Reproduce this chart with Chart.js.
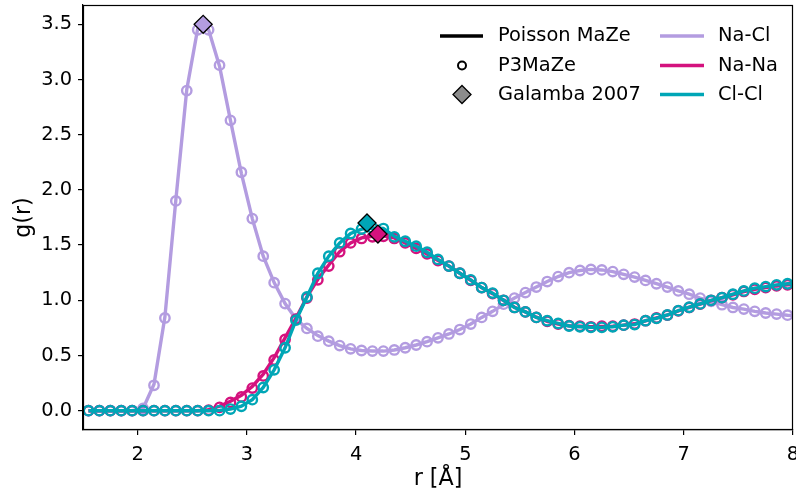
<!DOCTYPE html>
<html>
<head>
<meta charset="utf-8">
<script src="https://cdn.jsdelivr.net/npm/chart.js@4.4.1/dist/chart.umd.min.js"></script>
<style>
  html, body { margin: 0; padding: 0; background: #fff; }
</style>
</head>
<body>
<canvas id="chart" width="796" height="490"></canvas>
<script>
// r grid (Å), circles use the first 65 points, lines run one step past the axis
const rGrid = [1.55, 1.65, 1.75, 1.85, 1.95, 2.05, 2.15, 2.25, 2.35, 2.45,
  2.55, 2.65, 2.75, 2.85, 2.95, 3.05, 3.15, 3.25, 3.35, 3.45,
  3.55, 3.65, 3.75, 3.85, 3.95, 4.05, 4.15, 4.25, 4.35, 4.45,
  4.55, 4.65, 4.75, 4.85, 4.95, 5.05, 5.15, 5.25, 5.35, 5.45,
  5.55, 5.65, 5.75, 5.85, 5.95, 6.05, 6.15, 6.25, 6.35, 6.45,
  6.55, 6.65, 6.75, 6.85, 6.95, 7.05, 7.15, 7.25, 7.35, 7.45,
  7.55, 7.65, 7.75, 7.85, 7.95, 8.05];

// Poisson MaZe (lines)
const naclLine = [0, 0, 0, 0, 0, 0.02, 0.24, 0.85, 1.91, 2.91,
  3.46, 3.45, 3.12, 2.63, 2.15, 1.74, 1.40, 1.16, 0.97, 0.83,
  0.745, 0.68, 0.63, 0.59, 0.56, 0.545, 0.54, 0.54, 0.55, 0.57,
  0.595, 0.625, 0.66, 0.695, 0.735, 0.785, 0.845, 0.90, 0.962, 1.02,
  1.07, 1.12, 1.17, 1.215, 1.25, 1.27, 1.28, 1.275, 1.26, 1.235,
  1.21, 1.18, 1.15, 1.12, 1.085, 1.055, 1.02, 0.99, 0.96, 0.935,
  0.92, 0.90, 0.885, 0.875, 0.865, 0.86];
const nanaLine = [0, 0, 0, 0, 0, 0, 0, 0, 0, 0,
  0, 0.01, 0.04, 0.085, 0.14, 0.22, 0.33, 0.48, 0.66, 0.84,
  1.03, 1.19, 1.32, 1.44, 1.52, 1.565, 1.58, 1.585, 1.565, 1.52,
  1.47, 1.42, 1.36, 1.31, 1.245, 1.18, 1.115, 1.06, 1.0, 0.937,
  0.895, 0.847, 0.81, 0.785, 0.77, 0.765, 0.76, 0.763, 0.766, 0.775,
  0.787, 0.813, 0.84, 0.866, 0.903, 0.935, 0.965, 0.998, 1.025, 1.05,
  1.078, 1.10, 1.115, 1.13, 1.14, 1.145];
const clclLine = [0, 0, 0, 0, 0, 0, 0, 0, 0, 0,
  0, 0, 0.003, 0.015, 0.04, 0.10, 0.21, 0.37, 0.57, 0.82,
  1.03, 1.245, 1.40, 1.52, 1.605, 1.645, 1.655, 1.65, 1.58, 1.535,
  1.49, 1.435, 1.37, 1.31, 1.245, 1.185, 1.115, 1.065, 1.0, 0.935,
  0.895, 0.845, 0.815, 0.79, 0.767, 0.76, 0.755, 0.755, 0.76, 0.775,
  0.78, 0.815, 0.837, 0.867, 0.906, 0.937, 0.967, 1.0, 1.024, 1.055,
  1.085, 1.11, 1.124, 1.14, 1.15, 1.155];

// P3MaZe (circles)
const naclDots = [0, 0, 0, 0, 0, 0.02, 0.23, 0.84, 1.90, 2.90,
  3.45, 3.45, 3.13, 2.63, 2.16, 1.74, 1.40, 1.16, 0.97, 0.83,
  0.745, 0.675, 0.63, 0.59, 0.56, 0.545, 0.54, 0.54, 0.55, 0.57,
  0.595, 0.625, 0.66, 0.695, 0.735, 0.785, 0.845, 0.90, 0.965, 1.02,
  1.07, 1.12, 1.17, 1.215, 1.25, 1.27, 1.28, 1.275, 1.26, 1.235,
  1.21, 1.18, 1.15, 1.12, 1.085, 1.055, 1.02, 0.99, 0.96, 0.935,
  0.92, 0.90, 0.885, 0.875, 0.865];
const nanaDots = [0, 0, 0, 0, 0, 0, 0, 0, 0, 0,
  0, 0.005, 0.03, 0.075, 0.125, 0.205, 0.315, 0.46, 0.645, 0.83,
  1.02, 1.185, 1.31, 1.44, 1.52, 1.56, 1.575, 1.58, 1.56, 1.52,
  1.47, 1.42, 1.36, 1.31, 1.245, 1.18, 1.115, 1.06, 1.0, 0.935,
  0.895, 0.845, 0.81, 0.785, 0.77, 0.765, 0.76, 0.765, 0.765, 0.775,
  0.785, 0.815, 0.84, 0.865, 0.905, 0.935, 0.965, 1.0, 1.025, 1.05,
  1.08, 1.10, 1.115, 1.13, 1.14];
const clclDots = [0, 0, 0, 0, 0, 0, 0, 0, 0, 0,
  0, 0, 0, 0.015, 0.04, 0.10, 0.21, 0.37, 0.57, 0.82,
  1.03, 1.245, 1.40, 1.52, 1.605, 1.645, 1.655, 1.65, 1.575, 1.535,
  1.49, 1.435, 1.37, 1.31, 1.245, 1.185, 1.115, 1.065, 1.0, 0.935,
  0.895, 0.845, 0.815, 0.79, 0.767, 0.76, 0.755, 0.755, 0.76, 0.775,
  0.78, 0.815, 0.837, 0.867, 0.906, 0.937, 0.967, 1.0, 1.024, 1.055,
  1.085, 1.11, 1.124, 1.14, 1.15];

// Galamba 2007 first peaks: Na-Cl, Na-Na, Cl-Cl
const galambaR = [2.6, 4.2, 4.1];
const galambaG = [3.5, 1.6, 1.7];

const xTicks = [2, 3, 4, 5, 6, 7, 8];
const yTicks = [0, 0.5, 1, 1.5, 2, 2.5, 3, 3.5];

const colNaCl = '#b39ce0';
const colNaNa = '#d4127e';
const colClCl = '#00a6b6';
const FONT = "'DejaVu Sans', 'Liberation Sans', sans-serif";

function pts(xs, ys) {
  return ys.map((y, i) => ({ x: xs[i], y: y }));
}

function lineSet(ys, col, order) {
  return { data: pts(rGrid, ys), showLine: true, borderColor: col, borderWidth: 3.4,
    pointRadius: 0, pointHoverRadius: 0, tension: 0, order: order };
}
function dotSet(ys, col, order) {
  return { data: pts(rGrid, ys), showLine: false, borderColor: col,
    backgroundColor: 'rgba(0,0,0,0)', pointRadius: 4.7, pointBorderWidth: 2.4,
    pointStyle: 'circle', order: order };
}
function diamondSet(i, col, order) {
  return { data: [{ x: galambaR[i], y: galambaG[i] }], showLine: false,
    pointStyle: 'rectRot', pointRadius: 9, pointBorderWidth: 1.3,
    borderColor: '#000', backgroundColor: col, order: order, clip: false };
}

// box around the axes + the two-column legend
const extras = {
  id: 'extras',
  afterDraw(chart) {
    const ctx = chart.ctx, a = chart.chartArea;
    ctx.save();
    ctx.strokeStyle = '#000';
    ctx.lineWidth = 1.2;
    ctx.strokeRect(a.left + 0.5, a.top + 0.5, a.right - a.left - 1, a.bottom - a.top - 1);

    ctx.font = '19.4px ' + FONT;
    ctx.textBaseline = 'middle';
    ctx.fillStyle = '#000';
    const rows = [36, 65.5, 94.5];
    // left column: methods
    ctx.lineWidth = 3.5;
    ctx.beginPath(); ctx.moveTo(440, rows[0]); ctx.lineTo(483, rows[0]); ctx.stroke();
    ctx.lineWidth = 2;
    ctx.beginPath(); ctx.arc(462, rows[1], 4, 0, Math.PI * 2); ctx.stroke();
    ctx.beginPath();
    ctx.moveTo(462, rows[2] - 9); ctx.lineTo(471, rows[2]);
    ctx.lineTo(462, rows[2] + 9); ctx.lineTo(453, rows[2]); ctx.closePath();
    ctx.fillStyle = '#8c8c8c'; ctx.fill();
    ctx.lineWidth = 1.3; ctx.stroke();
    ctx.fillStyle = '#000';
    ctx.fillText('Poisson MaZe', 498, rows[0]);
    ctx.fillText('P3MaZe', 498, rows[1]);
    ctx.fillText('Galamba 2007', 498, rows[2]);
    // right column: pairs
    const pairs = [['Na-Cl', colNaCl], ['Na-Na', colNaNa], ['Cl-Cl', colClCl]];
    pairs.forEach((p, i) => {
      ctx.strokeStyle = p[1];
      ctx.lineWidth = 3.5;
      ctx.beginPath(); ctx.moveTo(660, rows[i]); ctx.lineTo(704, rows[i]); ctx.stroke();
      ctx.fillText(p[0], 718, rows[i]);
    });
    ctx.restore();
  }
};

new Chart(document.getElementById('chart'), {
  type: 'scatter',
  data: {
    datasets: [
      diamondSet(1, colNaNa, 0),
      diamondSet(2, colClCl, 1),
      diamondSet(0, colNaCl, 2),
      dotSet(clclDots, colClCl, 3),
      lineSet(clclLine, colClCl, 4),
      dotSet(nanaDots, colNaNa, 5),
      lineSet(nanaLine, colNaNa, 6),
      dotSet(naclDots, colNaCl, 7),
      lineSet(naclLine, colNaCl, 8)
    ]
  },
  options: {
    responsive: false,
    animation: false,
    layout: { autoPadding: false, padding: { top: 5, right: 3, left: 0, bottom: 0 } },
    plugins: { legend: { display: false }, tooltip: { enabled: false } },
    scales: {
      x: {
        type: 'linear', min: 1.5, max: 8,
        afterBuildTicks: s => { s.ticks = xTicks.map(v => ({ value: v })); },
        afterFit: s => { s.height = 60; s.paddingLeft = 0; s.paddingRight = 0; },
        ticks: { color: '#000', font: { family: FONT, size: 19.4 }, padding: 8,
          maxRotation: 0, callback: v => String(v) },
        grid: { drawOnChartArea: false, color: '#000', tickLength: 5, lineWidth: 1.2 },
        border: { color: '#000', width: 1.2 },
        title: { display: true, text: 'r [Å]', color: '#000',
          font: { family: FONT, size: 22.2, lineHeight: 1 }, padding: 0 }
      },
      y: {
        type: 'linear', min: -0.175, max: 3.675,
        afterBuildTicks: s => { s.ticks = yTicks.map(v => ({ value: v })); },
        afterFit: s => { s.width = 83; s.paddingTop = 0; s.paddingBottom = 0; },
        ticks: { color: '#000', font: { family: FONT, size: 19.4 }, padding: 6,
          callback: v => v.toFixed(1) },
        grid: { drawOnChartArea: false, color: '#000', tickLength: 5, lineWidth: 1.2 },
        border: { color: '#000', width: 1.2 },
        title: { display: true, text: 'g(r)', color: '#000',
          font: { family: FONT, size: 22.2 }, padding: { top: 11, bottom: 0 } }
      }
    }
  },
  plugins: [extras]
});
</script>
</body>
</html>
